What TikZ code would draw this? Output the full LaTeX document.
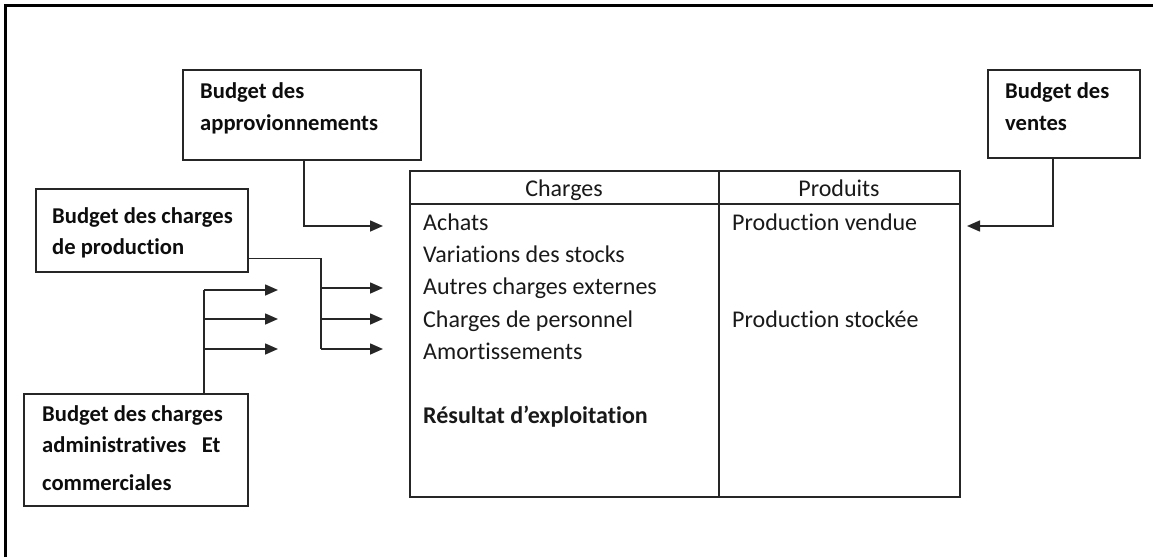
\documentclass[tikz,border=0pt]{standalone}
\usepackage{fontspec}
\setmainfont{Carlito}[Ligatures=NoCommon]
\usetikzlibrary{arrows.meta}
\begin{document}
\begin{tikzpicture}[x=1pt,y=-1pt,
  budgetbox/.style={draw=black!85, line width=1.6pt, anchor=north west, inner sep=0pt},
  lbl/.style={anchor=base west, inner sep=0pt, text=black!95, font=\fontsize{22.6}{26}\selectfont\bfseries},
  txt/.style={anchor=base west, inner sep=0pt, text=black!90, font=\fontsize{24}{28}\selectfont},
  hdr/.style={anchor=base, inner sep=0pt, text=black!90, font=\fontsize{24}{28}\selectfont},
  conn/.style={draw=black!85, line width=1.6pt},
  arr/.style={conn, -{Triangle[length=13pt,width=11pt]}},
]
\useasboundingbox (0,0) rectangle (1153,557);

% outer frame (partial)
\draw[line width=3pt] (5,557) -- (5,5.5) -- (1153,5.5);

% budget boxes
\node[budgetbox, minimum width=238pt, minimum height=90pt] (appro) at (182,69) {};
\node[budgetbox, minimum width=212pt, minimum height=83pt] (prod) at (35,188) {};
\node[budgetbox, minimum width=224pt, minimum height=112pt] (admin) at (23,393) {};
\node[budgetbox, minimum width=152pt, minimum height=88pt] (ventes) at (987,69) {};

\node[lbl] (appro1) at (200,98) {Budget des};
\node[lbl] (appro2) at (200,130) {approvionnements};
\node[lbl] (prod1) at (52,223) {Budget des charges};
\node[lbl] (prod2) at (52,254) {de production};
\node[lbl] (admin1) at (42,421) {Budget des charges};
\node[lbl] (admin2) at (42,452) {administratives\ \ \ Et};
\node[lbl] (admin3) at (42,490) {commerciales};
\node[lbl] (ventes1) at (1005,98) {Budget des};
\node[lbl] (ventes2) at (1005,130) {ventes};

% table
\node[budgetbox, minimum width=550pt, minimum height=326pt] (tab) at (409,170) {};
\draw[conn] (409,204) -- (959,204);
\draw[conn] (719,170) -- (719,496);
\node[hdr] (hcharges) at (564,196) {Charges};
\node[hdr] (hproduits) at (839,196) {Produits};
\node[txt] (achats) at (423,230) {Achats};
\node[txt] (variations) at (423,262) {Variations des stocks};
\node[txt] (autres) at (423,294) {Autres charges externes};
\node[txt] (personnel) at (423,327) {Charges de personnel};
\node[txt] (amort) at (423,359) {Amortissements};
\node[txt, font=\fontsize{24}{28}\selectfont\bfseries] (resultat) at (423,423) {Résultat d’exploitation};
\node[txt] (vendue) at (732,230) {Production vendue};
\node[txt] (stockee) at (732,327) {Production stockée};

% connector end points
\coordinate (achin) at (383,226);
\coordinate (vendin) at (967,226);
\coordinate (pb1) at (321,288);
\coordinate (pb2) at (321,319);
\coordinate (pb3) at (321,349);
\coordinate (pe1) at (383,288);
\coordinate (pe2) at (383,319);
\coordinate (pe3) at (383,349);
\coordinate (ab1) at (204,290);
\coordinate (ab2) at (204,319);
\coordinate (ab3) at (204,349);
\coordinate (ae1) at (278,290);
\coordinate (ae2) at (278,319);
\coordinate (ae3) at (278,349);

% connectors
\draw[arr] ([xshift=2pt]appro.south) |- (achin);
\draw[arr] ([xshift=-11pt]ventes.south) |- (vendin);
\draw[conn] ([yshift=14pt]prod.south east) -| (pb3);
\draw[arr] (pb1) -- (pe1);
\draw[arr] (pb2) -- (pe2);
\draw[arr] (pb3) -- (pe3);
\draw[conn] ([xshift=181pt]admin.north west) -- (ab1);
\draw[arr] (ab1) -- (ae1);
\draw[arr] (ab2) -- (ae2);
\draw[arr] (ab3) -- (ae3);
\end{tikzpicture}
\end{document}
